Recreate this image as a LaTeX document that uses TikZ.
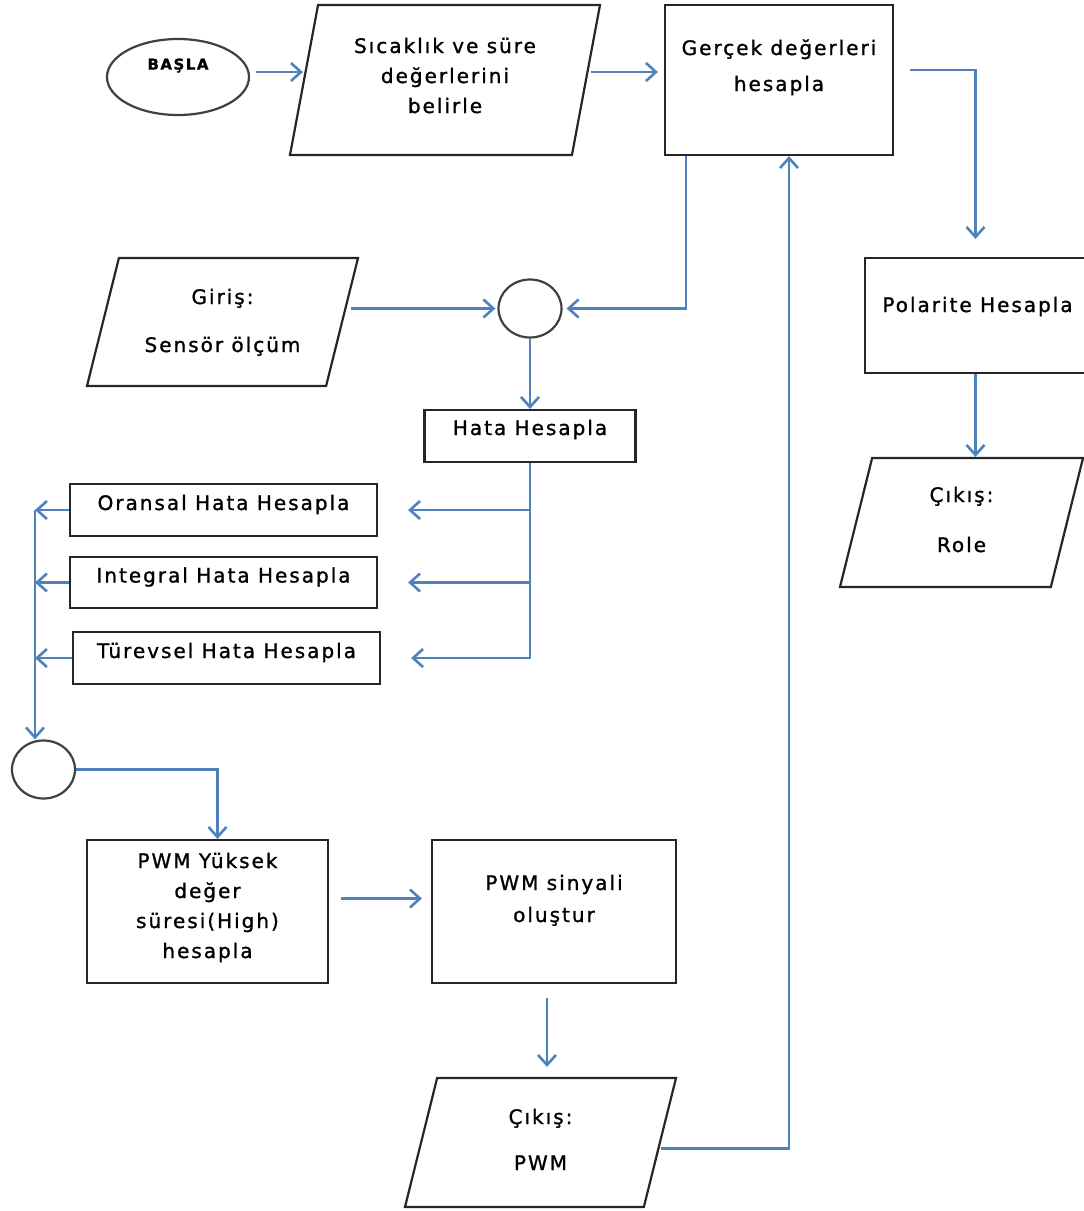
\documentclass[tikz,border=0pt]{standalone}
\usepackage{fontspec}
\setmainfont{DejaVu Sans}[LetterSpace=10.0, FakeBold=1.2]
\usetikzlibrary{shapes.geometric,arrows.meta}

\definecolor{lineblue}{RGB}{79,129,189}
\newcommand{\lift}[2]{\raisebox{#1}[0pt][0pt]{\begin{tabular}{@{}c@{}}#2\end{tabular}}}

\begin{document}
\begin{tikzpicture}[x=0.5pt, y=-0.5pt,
    font=\fontsize{10}{15}\selectfont,
    box/.style = {draw=black!85, line width=1.1pt, rectangle, inner sep=0pt},
    io/.style = {draw=black!85, line width=1.1pt, trapezium, trapezium stretches body,
        trapezium left angle=76, trapezium right angle=104, inner xsep=0pt},
    joint/.style = {draw=black!75, line width=1.1pt, ellipse, inner sep=0pt,
        minimum width=31.5pt, minimum height=29pt},
    arr/.style = {draw=lineblue, line width=1.3pt, -{Straight Barb[length=5pt,width=9pt]}}]
    \useasboundingbox (0,0) rectangle (1083,1211);

    \node[joint, minimum width=71pt, minimum height=38pt] (start) at (178,77)
        {\lift{4.2pt}{\fontsize{7.5}{9}\selectfont\bfseries BAŞLA}};
    \node[io, trapezium left angle=79.4, trapezium right angle=100.6,
        minimum width=155pt, inner ysep=37.5pt] (set) at (445,80)
        {\lift{-1pt}{Sıcaklık ve süre\\değerlerini\\belirle}};
    \node[box, minimum width=114pt, minimum height=75pt] (ger) at (779,80)
        {\lift{4pt}{Gerçek değerleri\\[3pt]hesapla}};
    \node[box, minimum width=112.5pt, minimum height=57.5pt] (pol) at (977.5,315.5)
        {\lift{2.25pt}{Polarite Hesapla}};
    \node[io, minimum width=121.5pt, inner ysep=32.25pt] (role) at (961.5,522.5)
        {\lift{-1.75pt}{Çıkış:\\[10pt]Role}};

    \node[io, minimum width=135.5pt, inner ysep=32pt] (giris) at (222.5,322)
        {\lift{-2.5pt}{Giriş:\\[9pt]Sensör ölçüm}};
    \node[joint] (sum1) at (530,308.5) {};
    \node[box, minimum width=105.5pt, minimum height=26pt] (hata) at (530,436)
        {\lift{1pt}{Hata Hesapla}};
    \node[box, minimum width=153.5pt, minimum height=26pt] (ora) at (223.5,510)
        {\lift{0.5pt}{Oransal Hata Hesapla}};
    \node[box, minimum width=153.5pt, minimum height=25.5pt] (int) at (223.5,582.5)
        {\lift{0.5pt}{Integral Hata Hesapla}};
    \node[box, minimum width=153.5pt, minimum height=26pt] (tur) at (226.5,658)
        {\lift{0.5pt}{Türevsel Hata Hesapla}};
    \node[joint] (sum2) at (43.5,769.5) {};
    \coordinate (bus) at (35,510);

    \node[box, minimum width=120.5pt, minimum height=71.5pt] (pwmh) at (207.5,911.5)
        {\lift{-0.25pt}{PWM Yüksek\\değer\\süresi(High)\\hesapla}};
    \node[box, minimum width=122pt, minimum height=71.5pt] (pwms) at (554,911.5)
        {\lift{3.25pt}{PWM sinyali\\[1pt]oluştur}};
    \node[io, minimum width=135.5pt, inner ysep=32.25pt] (out) at (540.5,1142.5)
        {\lift{-1.75pt}{Çıkış:\\[8pt]PWM}};

    \draw[arr, shorten <=3pt] ([yshift=2.5pt]start.east) -- ([yshift=2.5pt]start.east -| set.west);
    \draw[arr, shorten <=2pt, shorten >=3pt] ([yshift=4pt]set.east) -- ([yshift=4pt]set.east -| ger.west);
    \draw[arr, shorten <=8pt, shorten >=9pt] ([yshift=5pt]ger.east) -| ([xshift=-1pt]pol.north);
    \draw[arr] ([xshift=-1pt]pol.south) -- ([xshift=-1pt]pol.south |- role.north);
    \draw[arr, shorten >=2pt] ([xshift=11pt]ger.south west) |- (sum1.east);
    \draw[arr, shorten <=4pt, shorten >=1pt] (sum1.west -| giris.east) -- (sum1.west);
    \draw[arr] (sum1.south) -- (sum1.south |- hata.north);
    \foreach \n in {ora,int,tur}
        \draw[arr, shorten >=15pt] (hata.south) |- (\n.east);
    \foreach \n in {ora,int,tur}
        \draw[arr] (\n.west) -- (\n.west -| bus);
    \draw[arr] (bus) -- (bus |- sum2.north);
    \draw[arr] (sum2.east) -| ([xshift=5pt]pwmh.north);
    \draw[arr, shorten <=6pt, shorten >=4.5pt] ([yshift=6.5pt]pwmh.east) -- ([yshift=6.5pt]pwms.west);
    \draw[arr, shorten <=7pt, shorten >=5pt] ([xshift=-3.5pt]pwms.south) -- ([xshift=-3.5pt]pwms.south |- out.north);
    \draw[arr] ([yshift=-3pt]out.east) -| ([xshift=5pt]ger.south);
\end{tikzpicture}
\end{document}
